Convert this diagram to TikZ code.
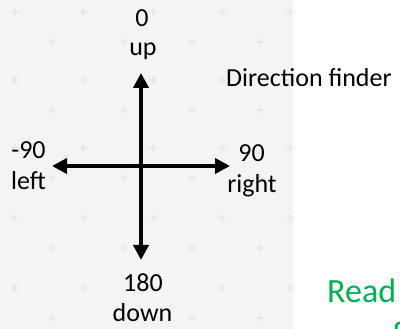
\documentclass[tikz,border=0pt]{standalone}
\usepackage{fontspec}
\setmainfont{Carlito}
\usetikzlibrary{arrows.meta}
\definecolor{bggray}{HTML}{F3F4F4}
\definecolor{plusgray}{HTML}{E8EAEA}
\definecolor{offgreen}{HTML}{00B050}
\tikzset{
  lbl/.style={inner sep=0pt, anchor=base, font=\fontsize{26}{30}\selectfont},
  plusmark/.style={draw=plusgray, line width=1.3pt},
  dirarrow/.style={line width=4.5pt, {Triangle[width=15pt,length=15pt]}-{Triangle[width=15pt,length=15pt]}},
}
\newcommand{\plusat}[2]{\draw[plusmark] (#1-4,#2) -- (#1+4,#2) (#1,#2-4) -- (#1,#2+4);}
\begin{document}
\begin{tikzpicture}[x=1pt,y=-1pt]
\useasboundingbox (0,0) rectangle (400,329);
\clip (0,0) rectangle (400,329);
\fill[bggray] (0,0) rectangle (293,329);
% faint grid of plus marks
\foreach \yy in {12,80,148,218,288}{
  \foreach \xx in {15,83,153,222,290}{ \plusat{\xx}{\yy} }
}
\foreach \yy in {42,110,178,248,318}{
  \foreach \xx in {53,123,192,260}{ \plusat{\xx}{\yy} }
}
% arrows
\coordinate (c) at (141,166);
\coordinate (n) at (141,73);
\coordinate (s) at (141,260);
\coordinate (w) at (52,166);
\coordinate (e) at (230,166);
\draw[dirarrow] (n) -- (s);
\draw[dirarrow] (w) -- (e);
% labels
\node[lbl] (l0) at (142,27) {0};
\node[lbl] (lup) at (143,56) {up};
\node[lbl] (lm90) at (28.5,159) {-90};
\node[lbl] (lleft) at (28.5,190) {left};
\node[lbl] (l90) at (251.5,162) {90};
\node[lbl] (lright) at (252,193) {right};
\node[lbl] (l180) at (143,292) {180};
\node[lbl] (ldown) at (142.5,322) {down};
\node[lbl, anchor=base west] (title) at (226,87) {Direction finder};
\node[inner sep=0pt, anchor=base west, text=offgreen, font=\fontsize{34}{38}\selectfont] (read) at (327,303) {Read};
\node[inner sep=0pt, anchor=base west, text=offgreen, font=\fontsize{34}{38}\selectfont] (f) at (392,346) {f};
\end{tikzpicture}
\end{document}
